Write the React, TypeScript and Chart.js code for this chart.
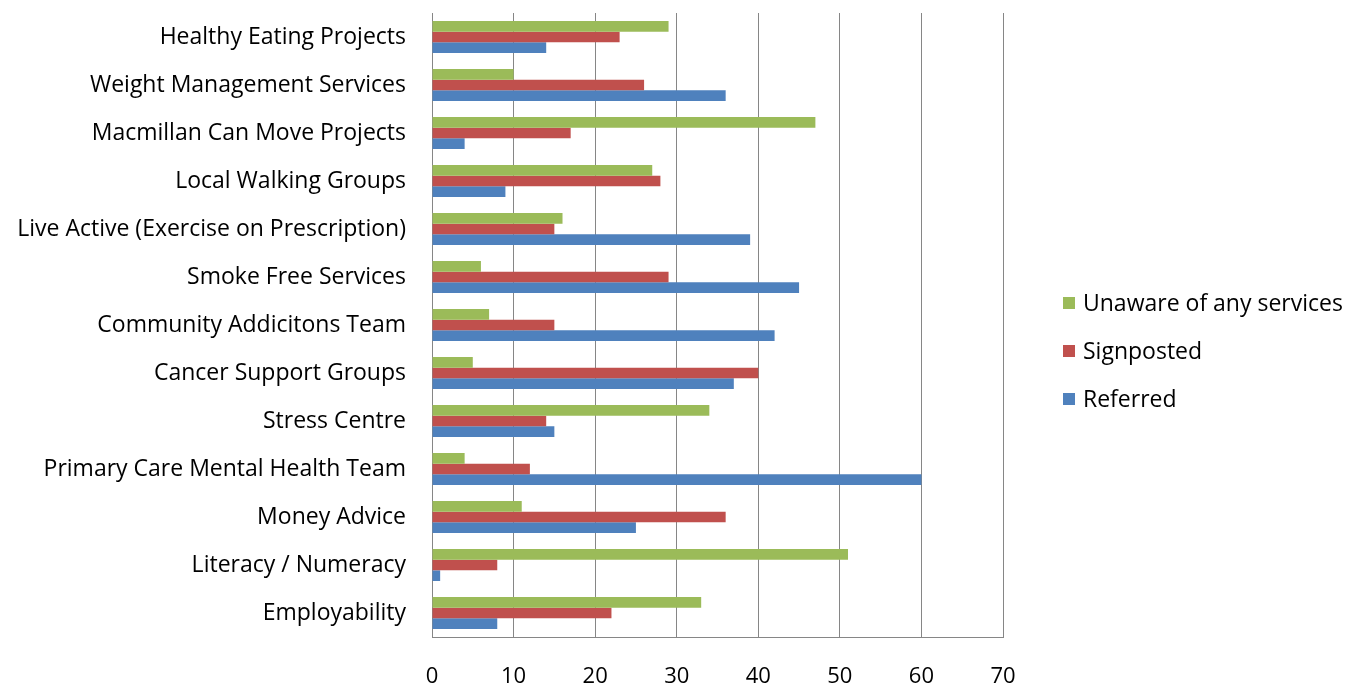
import React, { useEffect, useRef } from "react";
import { Chart, registerables } from "chart.js";

Chart.register(...registerables);

const categories = [
  "Healthy Eating Projects",
  "Weight Management Services",
  "Macmillan Can Move Projects",
  "Local Walking Groups",
  "Live Active (Exercise on Prescription)",
  "Smoke Free Services",
  "Community Addicitons Team",
  "Cancer Support Groups",
  "Stress Centre",
  "Primary Care Mental Health Team",
  "Money Advice",
  "Literacy / Numeracy",
  "Employability",
];

const unaware = [29, 10, 47, 27, 16, 6, 7, 5, 34, 4, 11, 51, 33];
const signposted = [23, 26, 17, 28, 15, 29, 15, 40, 14, 12, 36, 8, 22];
const referred = [14, 36, 4, 9, 39, 45, 42, 37, 15, 60, 25, 1, 8];

const seriesNames = ["Unaware of any services", "Signposted", "Referred"];
const seriesColors = ["#9BBB59", "#C0504D", "#4F81BD"];

const xTicks = [0, 10, 20, 30, 40, 50, 60, 70];

const FONT = "'Open Sans', 'Liberation Sans', sans-serif";

const sideLegend = {
  id: "sideLegend",
  afterDraw(chart: any) {
    const { ctx, chartArea } = chart;
    const ds = chart.data.datasets;
    const mid = (chartArea.top + chartArea.bottom) / 2 + 26;
    const gap = 48;
    const x0 = chartArea.right + 60;
    ctx.save();
    ctx.font = `23px ${FONT}`;
    ctx.textBaseline = "middle";
    ctx.textAlign = "left";
    ds.forEach((d: any, i: number) => {
      const y = mid + (i - 1) * gap;
      ctx.fillStyle = d.backgroundColor;
      ctx.fillRect(x0, y - 6, 12, 12);
      ctx.fillStyle = "#000";
      ctx.fillText(d.label, x0 + 20, y + 1);
    });
    ctx.restore();
  },
};

export default function App() {
  const ref = useRef<HTMLCanvasElement | null>(null);
  useEffect(() => {
    if (!ref.current) return;
    const series = [unaware, signposted, referred];
    const chart = new Chart(ref.current, {
      type: "bar",
      data: {
        labels: categories,
        datasets: series.map((vals, i) => ({
          label: seriesNames[i],
          data: vals,
          backgroundColor: seriesColors[i],
          borderWidth: 0,
          categoryPercentage: 0.667,
          barPercentage: 1,
        })),
      },
      options: {
        indexAxis: "y",
        animation: false,
        responsive: true,
        maintainAspectRatio: false,
        layout: { padding: { top: 13, right: 359, left: 0, bottom: 0 } },
        plugins: {
          legend: { display: false },
          tooltip: { enabled: false },
        },
        scales: {
          x: {
            min: 0,
            max: 70,
            afterBuildTicks: (s: any) => {
              s.ticks = xTicks.map((v) => ({ value: v }));
            },
            afterFit: (s: any) => {
              s.height = 51;
              s.paddingLeft = 0;
              s.paddingRight = 0;
            },
            grid: { color: "#868686", lineWidth: 1, drawTicks: false },
            border: { display: true, color: "#868686", width: 1 },
            ticks: {
              padding: 27,
              color: "#000",
              font: { family: FONT, size: 22 },
            },
          },
          y: {
            afterFit: (s: any) => {
              s.width = 432;
              s.paddingTop = 0;
              s.paddingBottom = 0;
            },
            grid: { display: false, drawTicks: false },
            border: { display: true, color: "#868686", width: 1 },
            ticks: {
              padding: 26,
              color: "#000",
              font: { family: FONT, size: 23 },
              autoSkip: false,
            },
          },
        },
      },
      plugins: [sideLegend],
    });
    return () => chart.destroy();
  }, []);
  return (
    <div style={{ position: "fixed", left: 0, top: 0, width: 1362, height: 688, background: "#fff" }}>
      <canvas ref={ref} />
    </div>
  );
}
